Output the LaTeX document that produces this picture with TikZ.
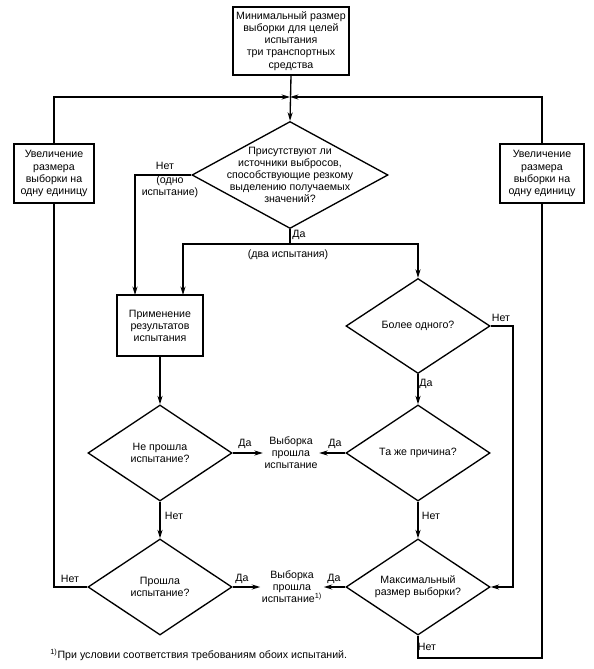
\documentclass[tikz,border=0pt]{standalone}
\usepackage{fontspec}
\setmainfont{Liberation Sans}
\usepackage{tikz}
\usetikzlibrary{arrows.meta, calc, positioning, shapes.geometric}

\newcommand{\flowfont}{\fontsize{7.55}{8.6}\selectfont}

\begin{document}
\begin{tikzpicture}[x=0.025cm, y=-0.025cm, >={Stealth[length=6pt, width=3.6pt]},
    box/.style={draw, line width=0.95pt, align=center, inner sep=1pt, font=\flowfont},
    decision/.style={draw, diamond, line width=0.95pt, inner sep=0pt, aspect=1.5,
        minimum width=3.6cm, minimum height=2.4cm, align=center, font=\flowfont},
    txt/.style={align=center, inner sep=1pt, font=\flowfont},
    lbl/.style={inner sep=0pt, font=\flowfont},
    flow/.style={line width=0.95pt}]
    \useasboundingbox (0,0) rectangle (593,669);

    % блоки
    \node[box, minimum width=2.9cm, minimum height=1.7cm] (start) at (291,41)
        {Минимальный размер\\выборки для целей\\испытания\\три транспортных\\средства};
    \node[box, minimum width=2.0cm, minimum height=1.475cm] (incL) at (54,173.5)
        {Увеличение\\размера\\выборки на\\одну единицу};
    \node[box, minimum width=2.1cm, minimum height=1.475cm] (incR) at (542,173.5)
        {Увеличение\\размера\\выборки на\\одну единицу};
    \node[box, minimum width=2.15cm, minimum height=1.525cm] (appl) at (160,325.5)
        {Применение\\результатов\\испытания};

    % ромбы
    \node[decision, minimum width=4.9cm, minimum height=2.675cm] (q1) at (290,175) {};
    \node[txt] (q1txt) at (q1) {Присутствуют ли\\источники выбросов,\\способствующие резкому\\выделению получаемых\\значений?};
    \node[decision] (q2) at (160,453) {Не прошла\\испытание?};
    \node[decision] (q3) at (160,587) {Прошла\\испытание?};
    \node[decision, minimum height=2.375cm] (q4) at (418,326) {Более одного?};
    \node[decision] (q5) at (418,453) {Та же причина?};
    \node[decision] (q6) at (418,587) {Максимальный\\размер выборки?};

    \node[txt] (pass1) at (291,453) {Выборка\\прошла\\испытание};
    \node[txt] (pass2) at (292,587) {Выборка\\прошла\\испытание\textsuperscript{1)}};

    % вспомогательные точки
    \coordinate (mrg) at (290,97);
    \coordinate (aL) at (135,295);
    \coordinate (aR) at (183,295);
    \coordinate (yes) at (290,244);
    \coordinate (c4) at (513,326);
    \coordinate (c6) at (418,658);

    % связи
    \draw[flow, ->] (start.south) -- (q1.north);
    \draw[flow, ->] (incL.north) |- (mrg);
    \draw[flow, ->] (incR.north) |- (mrg);
    \draw[flow, ->] (q1.west) -| (aL);
    \draw[flow] (q1.south) -- (yes);
    \draw[flow, ->] (yes) -| (aR);
    \draw[flow, ->] (yes) -| (q4.north);
    \draw[flow, ->] (appl.south) -- (q2.north);
    \draw[flow, ->] (q2.east) -- (pass1.west);
    \draw[flow, ->] (q5.west) -- (pass1.east);
    \draw[flow, ->] (q2.south) -- (q3.north);
    \draw[flow, ->] (q4.south) -- (q5.north);
    \draw[flow, ->] (q5.south) -- (q6.north);
    \draw[flow, ->] (q3.east) -- (pass2.west);
    \draw[flow, ->] (q6.west) -- (pass2.east);
    \draw[flow, ->] (q4.east) -- (c4) |- (q6.east);
    \draw[flow] (q3.west) -| (incL.south);
    \draw[flow] (q6.south) -- (c6) -| (incR.south);

    % подписи
    \node[lbl] (n1) at (165,166) {Нет};
    \node[lbl, align=center] (n1b) at (170,187) {(одно\\испытание)};
    \node[lbl] (y1) at (299,235) {Да};
    \node[lbl] (y1b) at (288,255) {(два испытания)};
    \node[lbl] (n4) at (501,318) {Нет};
    \node[lbl] (y4) at (426,384) {Да};
    \node[lbl] (y2) at (245,444) {Да};
    \node[lbl] (y5) at (335,444) {Да};
    \node[lbl] (n2) at (174,516) {Нет};
    \node[lbl] (n5) at (431,516) {Нет};
    \node[lbl] (n3) at (70,579) {Нет};
    \node[lbl] (y3) at (242,579) {Да};
    \node[lbl] (y6) at (334,579) {Да};
    \node[lbl] (n6) at (427,647) {Нет};

    % сноска
    \node[lbl, anchor=west] (fn) at (50,655) {\textsuperscript{1)}При условии соответствия требованиям обоих испытаний.};
\end{tikzpicture}
\end{document}
